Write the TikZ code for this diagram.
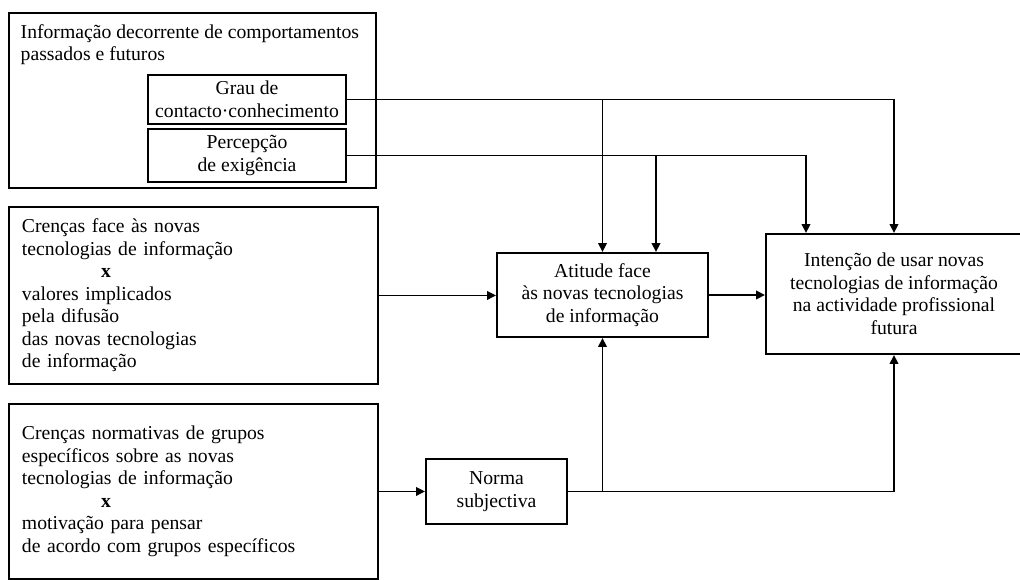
\documentclass[tikz,border=0pt]{standalone}
\usepackage{fontspec}
\setmainfont{Liberation Serif}
\usetikzlibrary{arrows.meta}
\usetikzlibrary{positioning}

\tikzset{
  every node/.style={font=\fontsize{11.2}{12.8}\selectfont},
  box/.style={draw, line width=1.1pt, align=center, inner sep=.13cm},
  leftbox/.style={draw, line width=1.1pt, align=left, inner xsep=.26cm},
  arr/.style={line width=1.1pt, -{Triangle[length=.18cm, width=.17cm]}}
}

\begin{document}
\begin{tikzpicture}
          \useasboundingbox (0,0) rectangle (20.4,-11.6);
          \node [draw, line width=1.1pt, minimum width=7.34cm, minimum height=3.5cm,
            anchor=north west] (info) at (.16,-.24) {};
          \node [anchor=north west, align=left] (infotext)
            at ([xshift=.13cm, yshift=-.12cm]info.north west)
            {Informação decorrente de comportamentos\\passados e futuros};
          \node [box, minimum width=3.96cm, minimum height=.94cm] (grau)
            at (4.94,-1.99) {Grau de\\contacto·conhecimento};
          \node [box, minimum width=3.96cm, minimum height=.9cm] (percepcao)
            at (4.94,-3.11) {Percepção\\de exigência};
          \node [leftbox, text width=6.86cm, minimum height=3.54cm, anchor=north west]
            (crencas) at (.16,-4.12) {Crenças face às novas\\tecnologias de informação\\
            \hspace*{45pt}\textbf{x}\\valores implicados\\pela difusão\\
            das novas tecnologias\\de informação};
          \node [leftbox, text width=6.86cm, minimum height=3.5cm, anchor=north west]
            (normas) at (.16,-8.06) {Crenças normativas de grupos\\
            específicos sobre as novas\\tecnologias de informação\\
            \hspace*{45pt}\textbf{x}\\motivação para pensar\\
            de acordo com grupos específicos};
          \node [box, minimum width=4.22cm, minimum height=1.68cm] (atitude)
            at (12.05,-5.9) {Atitude face\\às novas tecnologias\\de informação};
          \node [box, minimum width=5.12cm, minimum height=2.4cm] (intencao)
            at (17.88,-5.88) {Intenção de usar novas\\tecnologias de informação\\
            na actividade profissional\\futura};
          \node [box, minimum width=2.82cm, minimum height=1.3cm] (norma)
            at (9.93,-9.83) {Norma\\subjectiva};
          \coordinate (atitudein) at ([xshift=1.07cm]atitude.north);
          \coordinate (intencaoin) at ([xshift=-1.76cm]intencao.north);
          \draw [arr] (grau.east) -| (intencao.north);
          \draw [arr] (grau.east -| atitude.north) -- (atitude.north);
          \draw [arr] (percepcao.east) -| (intencaoin);
          \draw [arr] (percepcao.east -| atitudein) -- (atitudein);
          \draw [arr] (crencas.east) -- (crencas.east -| atitude.west);
          \draw [arr] (atitude.east) -- (atitude.east -| intencao.west);
          \draw [arr] (normas.east) -- (normas.east -| norma.west);
          \draw [arr] (norma.east) -| (intencao.south);
          \draw [arr] (norma.east -| atitude.south) -- (atitude.south);
        \end{tikzpicture}
\end{document}
